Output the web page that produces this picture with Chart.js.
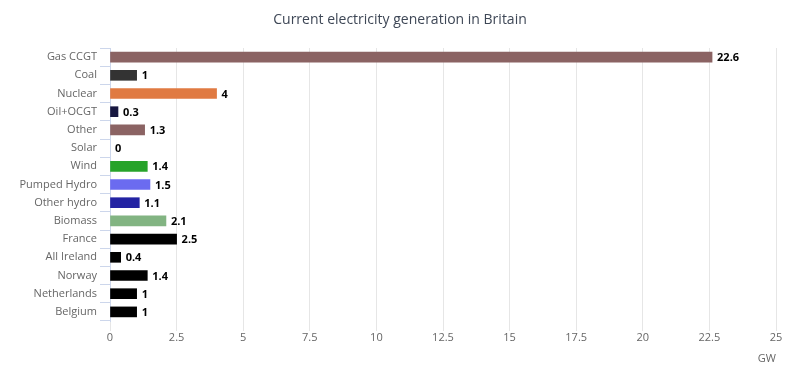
<!DOCTYPE html>
<html>
<head>
<meta charset="utf-8">
<script src="https://cdn.jsdelivr.net/npm/chart.js@4/dist/chart.umd.min.js"></script>
<style>
  html, body { margin: 0; padding: 0; background: #fff; }
  #wrap { width: 800px; height: 377px; }
</style>
</head>
<body>
<div id="wrap"><canvas id="chart" width="800" height="377"></canvas></div>
<script>
const chartTitle = "Current electricity generation in Britain";
const sources = ["Gas CCGT", "Coal", "Nuclear", "Oil+OCGT", "Other", "Solar", "Wind",
  "Pumped Hydro", "Other hydro", "Biomass", "France", "All Ireland", "Norway", "Netherlands", "Belgium"];
const gigawatts = [22.6, 1, 4, 0.3, 1.3, 0, 1.4, 1.5, 1.1, 2.1, 2.5, 0.4, 1.4, 1, 1];
const barColors = ["#8b6363", "#333333", "#e07a42", "#16163f", "#8b6363", "rgba(0,0,0,0)", "#27a32a",
  "#6b6bf0", "#2323a3", "#82b482", "#000000", "#000000", "#000000", "#000000", "#000000"];

// value labels at the end of every bar + title centred on the whole canvas
const valueLabels = {
  id: "valueLabels",
  afterDatasetsDraw(chart) {
    const c = chart.ctx;
    const meta = chart.getDatasetMeta(0);
    c.save();
    c.font = "bold 11px 'Open Sans', sans-serif";
    c.fillStyle = "#000";
    c.textAlign = "left";
    c.textBaseline = "middle";
    meta.data.forEach((bar, i) => {
      c.fillText(String(gigawatts[i]), bar.x + 5, bar.y + 1);
    });
    c.font = "14px 'Open Sans', sans-serif";
    c.fillStyle = "#3e4756";
    c.textAlign = "center";
    c.fillText(chartTitle, chart.width / 2, 20);
    c.restore();
  },
};

new Chart(document.getElementById("chart").getContext("2d"), {
  type: "bar",
  data: {
    labels: sources,
    datasets: [{
      data: gigawatts,
      backgroundColor: barColors,
      barThickness: 10,
    }],
  },
  options: {
    indexAxis: "y",
    responsive: false,
    animation: false,
    layout: { padding: { left: 0, right: 24, top: 48, bottom: 8 } },
    plugins: {
      legend: { display: false },
      tooltip: { enabled: false },
      title: { display: false },
    },
    scales: {
      x: {
        min: 0,
        max: 25,
        afterFit: (s) => { s.height = 48; },
        ticks: {
          stepSize: 2.5,
          color: "#666",
          font: { family: "'Open Sans', sans-serif", size: 11 },
          padding: 0,
        },
        grid: { color: "#e6e6e6", tickLength: 10 },
        border: { display: false },
        title: {
          display: true,
          text: "GW",
          align: "end",
          color: "#666",
          font: { family: "'Open Sans', sans-serif", size: 11 },
          padding: { top: 4, bottom: 4 },
        },
      },
      y: {
        afterFit: (s) => { s.width = 110; },
        ticks: {
          color: "#666",
          font: { family: "'Open Sans', sans-serif", size: 11 },
          padding: 3,
        },
        grid: { offset: true, drawOnChartArea: false, color: "#ccd6eb", tickLength: 10 },
        border: { color: "#ccd6eb" },
      },
    },
  },
  plugins: [valueLabels],
});
</script>
</body>
</html>
